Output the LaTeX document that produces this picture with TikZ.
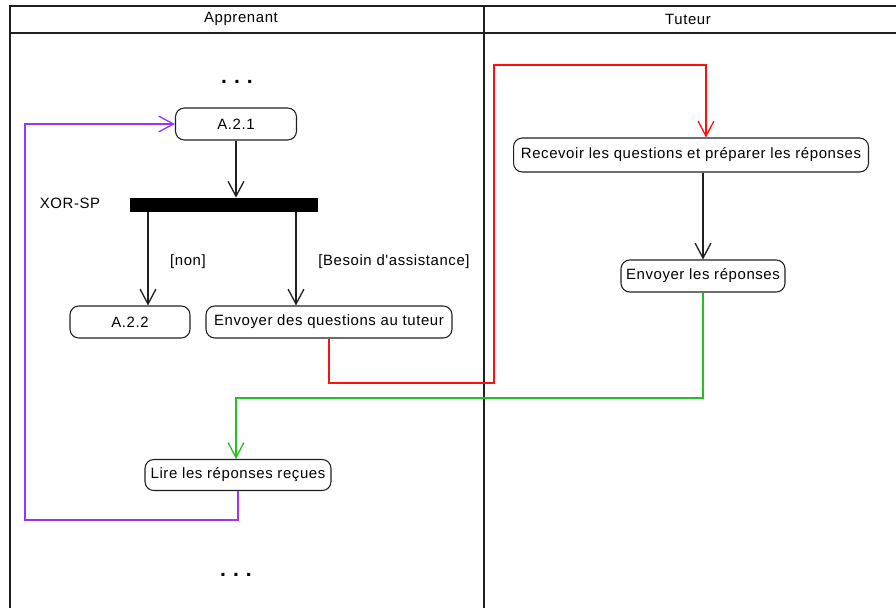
\documentclass[tikz,border=0pt]{standalone}
\usepackage{fontspec}
\setmainfont{Liberation Sans}
\newfontfamily\lanefont[LetterSpace=4]{Liberation Sans}
\usepackage{tikz}
\usetikzlibrary{calc, positioning, arrows.meta}
\definecolor{flowred}{HTML}{FF1010}
\definecolor{flowgreen}{HTML}{22C022}
\definecolor{flowviolet}{HTML}{9933FF}
\definecolor{frame}{HTML}{202020}

\begin{document}
\begin{tikzpicture}[
    x=0.02cm, y=-0.02cm,
    act/.style={draw=frame, line width=0.6pt, rounded corners=5pt, inner sep=0pt,
                minimum height=0.64cm, align=center, font=\lanefont\fontsize{8.5}{10}\selectfont},
    bar/.style={fill=black, inner sep=0pt, minimum width=3.78cm, minimum height=0.28cm},
    lbl/.style={font=\lanefont\fontsize{8.5}{10}\selectfont},
    arr/.style={-{Straight Barb[length=8.5pt, width=9pt]}, line width=0.75pt},
    lane/.style={frame, line width=0.8pt}
  ]
    \useasboundingbox (0,0) rectangle (896,608);

    % swimlanes
    \draw[lane] (896,6) -- (10,6) -- (10,608);
    \draw[lane] (10,33) -- (896,33);
    \draw[lane] (484,6) -- (484,608);
    \node[lbl] (hdrA) at (241,19) {Apprenant};
    \node[lbl] (hdrT) at (688,19) {Tuteur};

    % learner side
    \node (dotsA) at (237,82) {\large\textbf{.\,\,.\,\,.}};
    \node[act, minimum width=2.42cm] (a21) at (236,124) {A.2.1};
    \node[bar] (xor) at (224,205) {};
    \node[lbl] (xorlbl) at (70,203) {XOR-SP};
    \node[act, minimum width=2.4cm] (a22) at (130,322) {A.2.2};
    \node[act, minimum width=4.92cm] (envq) at (329,322) {Envoyer des questions au tuteur};
    \node[lbl] (non) at (188,262) {[non]};
    \node[lbl] (besoin) at (394,262) {[Besoin d'assistance]};
    \node[act, minimum width=3.72cm, minimum height=0.62cm] (lire) at (238,475) {Lire les réponses reçues};
    \node (dotsB) at (236,575) {\large\textbf{.\,\,.\,\,.}};

    % tutor side
    \node[act, minimum width=7.1cm, minimum height=0.68cm] (recv) at (691,155) {Recevoir les questions et préparer les réponses};
    \node[act, minimum width=3.28cm] (answ) at (703,276) {Envoyer les réponses};

    \coordinate (br1) at (148,0);
    \coordinate (br2) at (296,0);
    \coordinate (rq1) at (494,383);
    \coordinate (rq2) at (706,65);
    \coordinate (gr1) at (236,398);
    \coordinate (pu1) at (25,520);

    \draw[arr, frame] (a21) -- (xor.north -| a21);
    \draw[arr, frame] (xor.south -| br1) -- (a22.north -| br1);
    \draw[arr, frame] (xor.south -| br2) -- (envq.north -| br2);
    \draw[arr, frame] (recv.south -| answ) -- (answ);

    \draw[arr, flowred] (envq.south) |- (rq1) |- (rq2) -- (recv.north -| rq2);
    \draw[arr, flowgreen] (answ.south) |- (gr1) -- (lire.north -| gr1);
    \draw[arr, flowviolet] (lire.south) |- (pu1) |- (a21.west);
  \end{tikzpicture}
\end{document}
